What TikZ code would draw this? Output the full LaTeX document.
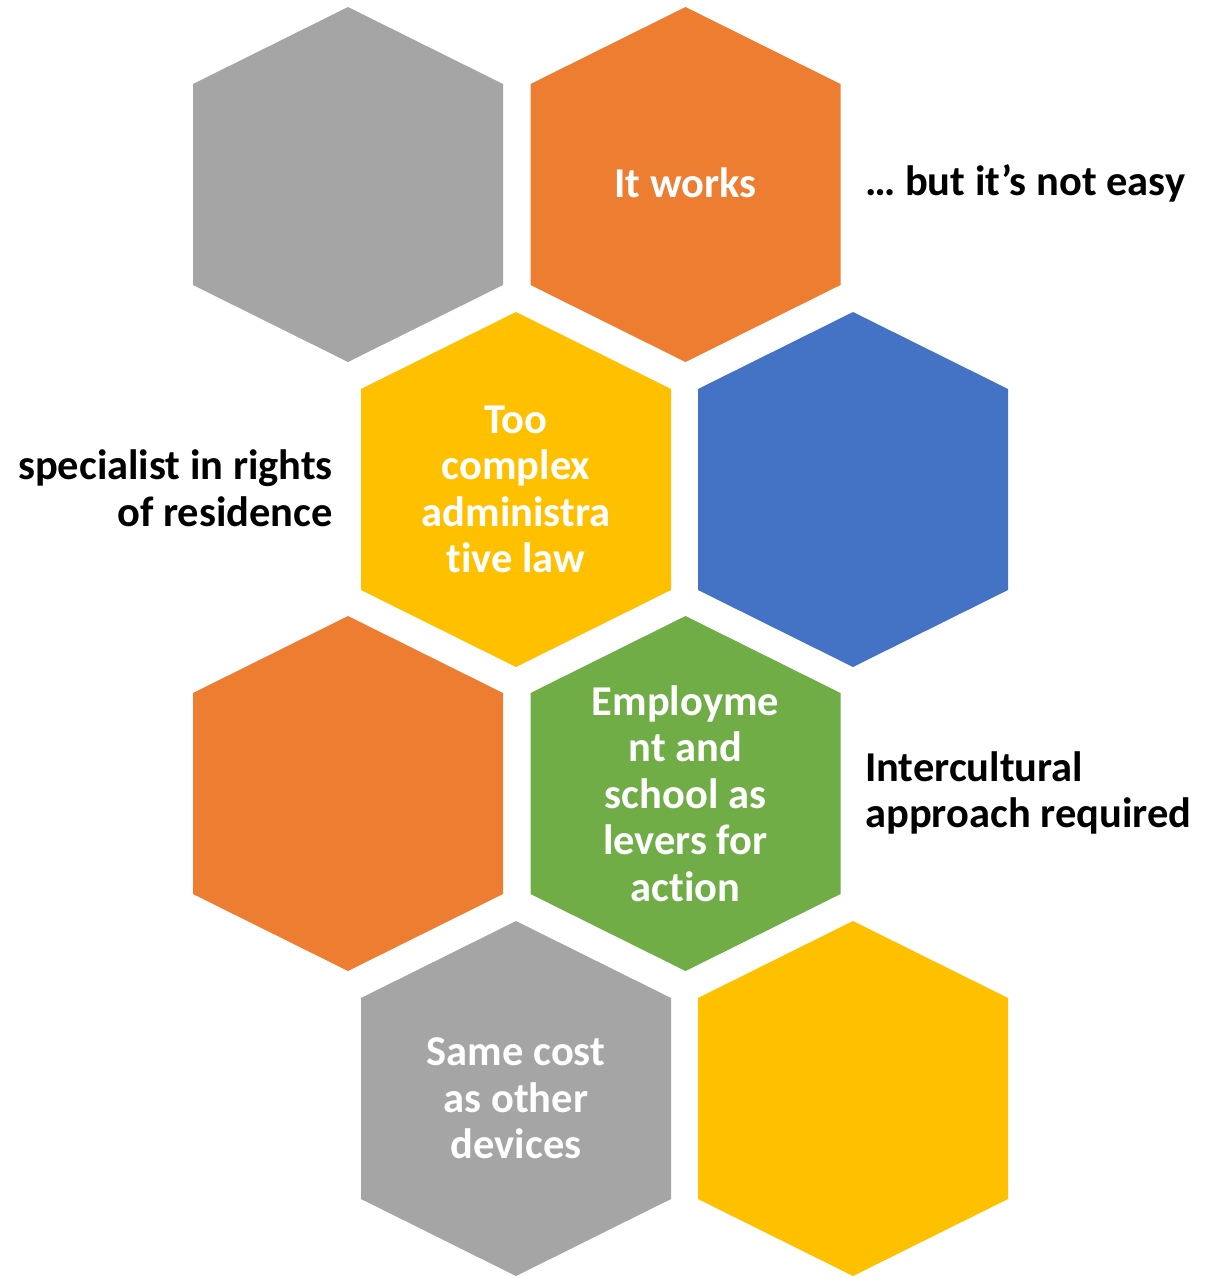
\documentclass[tikz,border=0pt]{standalone}
\usepackage{fontspec}
\setmainfont{Carlito}[Ligatures=NoCommon]
\definecolor{hgray}{HTML}{A5A5A5}
\definecolor{horange}{HTML}{ED7D31}
\definecolor{hyellow}{HTML}{FFC000}
\definecolor{hblue}{HTML}{4472C4}
\definecolor{hgreen}{HTML}{70AD47}
\newcommand\hexcell[4]{% name, cx, cy, colour
  \begin{scope}[shift={(#2,#3)}]
    \fill[#4] (0,-177.5) -- (155,-100.5) -- (155,100.5) -- (0,177.5) -- (-155,100.5) -- (-155,-100.5) -- cycle;
  \end{scope}
  \coordinate (#1) at (#2,#3);
}
\tikzset{
  bigfont/.style={font=\fontsize{42.5}{46.5}\selectfont\bfseries},
  hextext/.style={bigfont, text=white, align=center, inner sep=0pt},
  sidetext/.style={bigfont, text=black, inner sep=0pt},
}
\begin{document}
\begin{tikzpicture}[x=1pt,y=-1pt]
\useasboundingbox (0,0) rectangle (1207,1278);
\hexcell{g1}{348}{184.5}{hgray}
\hexcell{o1}{685.5}{184.5}{horange}
\hexcell{y1}{516}{489.5}{hyellow}
\hexcell{b1}{853}{489.5}{hblue}
\hexcell{o2}{348}{793.5}{horange}
\hexcell{gr1}{685.5}{793.5}{hgreen}
\hexcell{g2}{516}{1098.5}{hgray}
\hexcell{y2}{853}{1098.5}{hyellow}
\node[hextext] (t1) at ([yshift=1.5pt]o1) {It works};
\node[hextext] (t2) at (y1) {Too\\complex\\administra\\tive law};
\node[hextext] (t3) at (gr1) {Employme\\nt and\\school as\\levers for\\action};
\node[hextext] (t4) at (g2) {Same cost\\as other\\devices};
\node[sidetext, anchor=west] (s1) at (865,183) {… but it’s not easy};
\node[sidetext, anchor=east, align=right] (s2) at (333,488) {specialist in rights\\of residence};
\node[sidetext, anchor=west, align=left] (s3) at (865,793) {Intercultural\\approach required};
\end{tikzpicture}
\end{document}
